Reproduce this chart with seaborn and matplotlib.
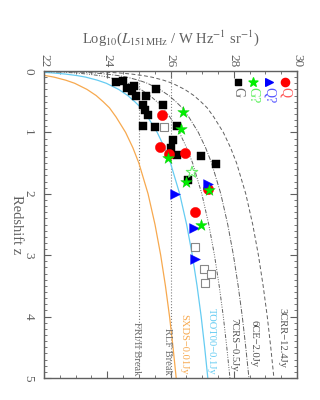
import numpy as np
import pandas as pd
import matplotlib
matplotlib.use('Agg')
import matplotlib.pyplot as plt
from matplotlib.ticker import MultipleLocator
import seaborn as sns

sns.set_theme(style='ticks')
plt.rcParams['font.family'] = ['Liberation Serif', 'DejaVu Serif']
plt.rcParams['mathtext.fontset'] = 'stix'

# Source samples: log10 L151MHz and redshift
g_logl = [24.28, 24.51, 24.63, 24.86, 24.77, 24.91, 25.22, 25.54, 25.12, 25.77, 25.19,
          25.30, 25.12, 25.51, 26.19, 26.07, 26.00, 26.21, 26.95, 27.44, 26.56]
g_z = [0.18, 0.16, 0.27, 0.25, 0.33, 0.41, 0.40, 0.29, 0.56, 0.56, 0.63,
       0.72, 0.89, 0.92, 0.89, 1.12, 1.25, 1.37, 1.39, 1.51, 1.78]
g_open_logl = [25.79, 26.79, 27.06, 27.27, 27.09]
g_open_z = [0.91, 2.87, 3.23, 3.31, 3.45]
q_logl = [25.74, 25.67, 25.96, 26.46, 27.17, 26.77]
q_z = [0.72, 1.23, 1.35, 1.34, 1.92, 2.30]
qq_logl = [26.14, 27.19, 26.74, 26.77]
qq_z = [2.00, 1.84, 2.55, 3.07]
gq_logl = [26.40, 26.32, 25.93, 26.48, 27.23, 26.95]
gq_z = [0.67, 0.95, 1.41, 1.81, 1.93, 2.50]
gq_open_logl = [26.68]
gq_open_z = [1.65]

# Flux-limit curves (log10 L at each redshift)
curve_z = [0.01, 0.02, 0.03, 0.05, 0.075, 0.1, 0.15, 0.2, 0.3, 0.4, 0.5, 0.6, 0.75,
           1.0, 1.25, 1.5, 2.0, 2.5, 3.0, 3.5, 4.0, 4.5, 5.0]
sxds = [20.28, 20.89, 21.25, 21.68, 22.05, 22.32, 22.69, 22.97, 23.36, 23.65, 23.87, 24.07, 24.28,
        24.58, 24.81, 25.00, 25.29, 25.51, 25.69, 25.84, 25.97, 26.08, 26.18]
toot = [21.28, 21.89, 22.25, 22.68, 23.05, 23.32, 23.69, 23.97, 24.36, 24.65, 24.87, 25.07, 25.28,
        25.58, 25.81, 26.00, 26.29, 26.51, 26.69, 26.84, 26.97, 27.08, 27.18]
sevencrs = [21.98, 22.59, 22.95, 23.38, 23.75, 24.02, 24.39, 24.67, 25.06, 25.35, 25.57, 25.77, 25.98,
            26.28, 26.51, 26.70, 26.99, 27.21, 27.39, 27.54, 27.67, 27.78, 27.88]
sixce = [22.58, 23.19, 23.55, 23.98, 24.35, 24.62, 24.99, 25.27, 25.66, 25.95, 26.17, 26.37, 26.58,
         26.88, 27.11, 27.30, 27.59, 27.81, 27.99, 28.14, 28.27, 28.38, 28.48]
threecrr = [23.37, 23.98, 24.34, 24.77, 25.14, 25.41, 25.78, 26.06, 26.45, 26.74, 26.96, 27.16, 27.37,
            27.67, 27.90, 28.09, 28.38, 28.60, 28.78, 28.93, 29.06, 29.17, 29.27]
breaks = [25.0, 26.0]

grey = '#606060'
cyan = '#66ccf2'
orange = '#f7a94f'

fig = plt.figure(figsize=(3.2, 4.0), dpi=100)
ax = fig.add_axes([44 / 320, 1 - 378 / 400, 253 / 320, 307 / 400])

# break lines
for b in breaks:
    ax.plot([b, b], [0, 5], color='#808080', linestyle=':', linewidth=0.8)

ax.plot(sxds, curve_z, color=orange, linewidth=0.9)
ax.plot(toot, curve_z, color=cyan, linewidth=0.9)
ax.plot(sevencrs, curve_z, color=grey, linewidth=0.7, linestyle=(0, (4, 1.5, 1, 1.5, 1, 1.5, 1, 1.5)))
ax.plot(sixce, curve_z, color=grey, linewidth=0.7, linestyle=(0, (5, 1.5, 1, 1.5)))
ax.plot(threecrr, curve_z, color=grey, linewidth=0.7, linestyle=(0, (4, 2.5)))

# points
sns.scatterplot(x=g_logl, y=g_z, marker='s', s=36, color='black', edgecolor='black', linewidth=0.3, ax=ax, zorder=3)
sns.scatterplot(x=g_open_logl, y=g_open_z, marker='s', s=36, facecolor='white', edgecolor='#888888', linewidth=0.8, ax=ax, zorder=3)
sns.scatterplot(x=q_logl, y=q_z, marker='o', s=55, color='#ff0000', edgecolor='#ff0000', linewidth=0.3, ax=ax, zorder=4)
sns.scatterplot(x=qq_logl, y=qq_z, marker='>', s=50, color='#0000ff', edgecolor='#0000ff', linewidth=0.3, ax=ax, zorder=5)
sns.scatterplot(x=gq_logl, y=gq_z, marker='*', s=75, color='#00ee00', edgecolor='#00cc00', linewidth=0.3, ax=ax, zorder=6)
sns.scatterplot(x=gq_open_logl, y=gq_open_z, marker='*', s=75, facecolor='none', edgecolor='#66ee66', linewidth=0.8, ax=ax, zorder=6)

# labels on the curves
lab_kw = dict(rotation=-90, ha='center', va='bottom', fontsize=7.6)
ax.text(24.93, 4.95, 'FRI/II Break', color='#707070', **lab_kw)
ax.text(25.91, 4.95, 'RLF Break', color='#707070', **lab_kw)
ax.text(26.41, 4.95, 'SXDS\u22120.01Jy', color=orange, **lab_kw)
ax.text(27.30, 4.95, 'TOOT00\u22120.1Jy', color=cyan, **lab_kw)
ax.text(28.00, 4.90, '7CRS\u22120.5Jy', color='#505050', **lab_kw)
ax.text(28.63, 4.82, '6CE\u22122.0Jy', color='#505050', **lab_kw)
ax.text(29.52, 4.84, '3CRR\u221212.4Jy', color='#505050', **lab_kw)

# legend
leg_x = [0.767, 0.826, 0.889, 0.953]
leg_marker = ['s', '*', '>', 'o']
leg_col = ['black', '#00ee00', '#0000ff', '#ff0000']
leg_txt = ['G', 'G?', 'Q?', 'Q']
leg_txtcol = ['#606060', '#55ee55', '#5555ff', '#ff5555']
leg_size = [22, 45, 30, 35]
for lx, m, c, t, tc, sz in zip(leg_x, leg_marker, leg_col, leg_txt, leg_txtcol, leg_size):
    ax.scatter([lx], [0.964], marker=m, s=sz, color=c, transform=ax.transAxes, zorder=7, clip_on=False)
    ax.text(lx, 0.948, t, rotation=-90, ha='center', va='top', fontsize=10,
            color=tc, transform=ax.transAxes)

ax.set_xlim(22, 30)
ax.set_ylim(5, 0)
ax.xaxis.set_major_locator(MultipleLocator(2))
ax.xaxis.set_minor_locator(MultipleLocator(0.5))
ax.yaxis.set_major_locator(MultipleLocator(1))
ax.yaxis.set_minor_locator(MultipleLocator(0.1))
ax.tick_params(which='both', direction='in', top=True, bottom=True, left=True, right=True,
               labeltop=True, labelbottom=False, labelleft=True, labelright=False,
               color=grey, labelcolor='#606060', labelsize=9.5)
ax.tick_params(which='major', length=5, width=0.8)
ax.tick_params(which='minor', length=2.5, width=0.6)
ax.tick_params(axis='x', pad=3)
ax.tick_params(axis='y', pad=7)
for lbl in ax.get_xticklabels():
    lbl.set_rotation(-90)
for lbl in ax.get_yticklabels():
    lbl.set_rotation(-90)
    lbl.set_va('center')
for sp in ax.spines.values():
    sp.set_visible(True)
    sp.set_color(grey)
    sp.set_linewidth(1.0)
ax.set_xlabel('')
ax.set_ylabel('')

fig.text(170.5 / 320, 1 - 38 / 400,
         r'Log$_{10}$($L_{\rm 151MHz}$ / W Hz$^{-1}$ sr$^{-1}$)',
         ha='center', va='center', fontsize=10.5, color='#606060')
fig.text(16 / 320, 1 - 224.5 / 400, 'Redshift z', rotation=-90,
         ha='center', va='center', fontsize=10.5, color='#606060')

fig.savefig('out.png', dpi=100)
